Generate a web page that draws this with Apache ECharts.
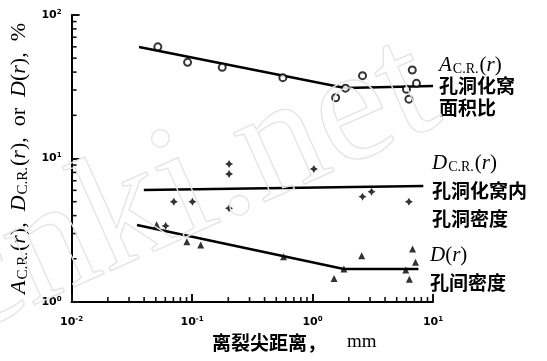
<!DOCTYPE html>
<html>
<head>
<meta charset="utf-8">
<script src="https://cdn.jsdelivr.net/npm/echarts@6/dist/echarts.min.js"></script>
<style>
  html, body { margin: 0; padding: 0; background: #fff; }
  #chart { width: 547px; height: 361px; }
</style>
</head>
<body>
<div id="chart"></div>
<script>
// Crater area ratio A_C.R.(r): measured points and fitted line
const acrR = [0.052, 0.0918, 0.178, 0.567, 1.876, 1.556, 2.60, 6.73, 7.29, 6.02, 6.31];
const acrV = [60, 46.8, 43.2, 36.6, 30.9, 26.5, 37.8, 41.4, 33.4, 30.4, 25.9];
const acrFitR = [0.0363, 1.865, 10];
const acrFitV = [59.8, 31.0, 32.0];

// Void density inside craters D_C.R.(r)
const dcrR = [0.203, 0.203, 0.0706, 0.1007, 0.203, 0.0604, 1.026, 2.60, 3.09, 6.31];
const dcrV = [9.16, 7.80, 5.00, 5.00, 4.50, 3.39, 8.45, 5.42, 5.87, 5.00];
const dcrFitR = [0.0398, 8.31];
const dcrFitV = [6.03, 6.43];

// Inter-void density D(r)
const dR = [0.0508, 0.0906, 0.118, 0.575, 2.56, 1.51, 1.82, 6.77, 7.16, 6.37, 5.94];
const dV = [3.45, 2.63, 2.50, 2.07, 2.10, 1.46, 1.70, 2.34, 1.89, 1.44, 1.67];
const dFitR = [0.0349, 1.82, 7.57];
const dFitV = [3.44, 1.70, 1.70];

// Axis ranges and tick labels
const xMin = 0.01, xMax = 10;
const yMin = 1, yMax = 100;
const xTickLabels = { '0.01': '-2', '0.1': '-1', '1': '0', '10': '1' };
const yTickLabels = { '1': '0', '10': '1', '100': '2' };
const minorMult = [2, 3, 4, 5, 6, 7, 8, 9];
const xDecades = [0.01, 0.1, 1];
const yDecades = [1, 10];

const zip = (a, b) => a.map((v, i) => [v, b[i]]);

const starPath = 'path://M0,-10 L3.6,-3.6 L10,0 L3.6,3.6 L0,10 L-3.6,3.6 L-10,0 L-3.6,-3.6 Z';
const serif = '"Liberation Serif", "DejaVu Serif", serif';
const cjk = '"Noto Sans CJK SC", sans-serif';
const ink = '#111111';

const lineStyle = { color: '#000', width: 2.6 };

function fitSeries(data) {
  return {
    type: 'line', data: data, symbol: 'none', silent: true,
    lineStyle: lineStyle, z: 3, animation: false
  };
}

const tickRich = {
  b: { fontFamily: '"DejaVu Sans", sans-serif', fontSize: 11, fontWeight: 'bold', color: '#000' },
  sup: { fontFamily: '"DejaVu Sans", sans-serif', fontSize: 7, fontWeight: 'bold', color: '#000', verticalAlign: 'top', padding: [0, 0, 6, 0] }
};

const nameRich = {
  i: { fontFamily: serif, fontStyle: 'italic', fontSize: 21, color: '#000' },
  n: { fontFamily: serif, fontSize: 21, color: '#000' },
  s: { fontFamily: serif, fontSize: 14, color: '#000', padding: [8, 1, 0, 1] }
};
const yNameRich = {
  i: { fontFamily: serif, fontStyle: 'italic', fontSize: 22, color: '#000' },
  n: { fontFamily: serif, fontSize: 22, color: '#000' },
  s: { fontFamily: serif, fontSize: 15, color: '#000', padding: [8, 1, 0, 1] }
};

const axisCommon = {
  axisLine: { show: true, lineStyle: { color: '#000', width: 2 } },
  axisTick: { show: true, inside: true, length: 8, lineStyle: { color: ink, width: 2 } },
  splitLine: { show: false },
  minorTick: { show: false }
};

const chart = echarts.init(document.getElementById('chart'));

const cjkText = (left, top, text) => ({
  type: 'text', left: left, top: top,
  style: { text: text, font: 'bold 19px ' + cjk, fill: '#000' }
});

chart.setOption({
  backgroundColor: '#fff',
  animation: false,
  grid: { left: 63, right: 114, top: 15, bottom: 59 },
  xAxis: Object.assign({
    type: 'log', logBase: 10, min: xMin, max: xMax,
    axisLabel: {
      margin: 14,
      formatter: v => '{b|10}{sup|' + xTickLabels[String(v)] + '}',
      rich: tickRich
    }
  }, axisCommon),
  yAxis: Object.assign({
    type: 'log', logBase: 10, min: yMin, max: yMax,
    axisLabel: {
      margin: 10,
      formatter: v => '{b|10}{sup|' + yTickLabels[String(v)] + '}',
      rich: tickRich
    },
    name: '{i|A}{s|C.R.}{n|(}{i|r}{n|),  }{i|D}{s|C.R.}{n|(}{i|r}{n|),  or  }{i|D}{n|(}{i|r}{n|),  %}',
    nameLocation: 'middle',
    nameRotate: 90,
    nameGap: 36,
    nameTextStyle: { rich: yNameRich }
  }, axisCommon),
  series: [
    fitSeries(zip(acrFitR, acrFitV)),
    fitSeries(zip(dcrFitR, dcrFitV)),
    fitSeries(zip(dFitR, dFitV)),
    {
      type: 'scatter', data: zip(acrR, acrV), symbol: 'circle', symbolSize: 7, z: 5,
      itemStyle: { color: '#fff', borderColor: '#000', borderWidth: 2 }
    },
    {
      type: 'scatter', data: zip(dcrR, dcrV), symbol: starPath, symbolSize: 8, z: 5,
      itemStyle: { color: '#000' }
    },
    {
      type: 'scatter', data: zip(dR, dV), symbol: 'triangle', symbolSize: 7, z: 5,
      itemStyle: { color: '#000' }
    }
  ]
});

// Annotations and minor ticks at 2..9 of each decade (through the axis scales)
const graphics = [
  { type: 'text', left: 439, top: 55, style: { text: '{i|A}{s|C.R.}{n|(}{i|r}{n|)}', rich: nameRich } },
  cjkText(439, 76, '孔洞化窝'),
  cjkText(439, 98, '面积比'),
  { type: 'text', left: 432, top: 153, style: { text: '{i|D}{s|C.R.}{n|(}{i|r}{n|)}', rich: nameRich } },
  cjkText(432, 181, '孔洞化窝内'),
  cjkText(432, 209, '孔洞密度'),
  { type: 'text', left: 430, top: 245, style: { text: '{i|D}{n|(}{i|r}{n|)}', rich: nameRich } },
  cjkText(430, 273, '孔间密度'),
  cjkText(212, 333, '离裂尖距离，'),
  { type: 'text', left: 347, top: 333, style: { text: 'mm', font: '19px ' + serif, fill: '#000' } }
];
xDecades.forEach(d => minorMult.forEach(m => {
  const p = chart.convertToPixel({ xAxisIndex: 0, yAxisIndex: 0 }, [m * d, yMin]);
  graphics.push({ type: 'line', silent: true, z: 10,
    shape: { x1: p[0], y1: p[1], x2: p[0], y2: p[1] - 5 },
    style: { stroke: ink, lineWidth: 1.6 } });
}));
yDecades.forEach(d => minorMult.forEach(m => {
  const p = chart.convertToPixel({ xAxisIndex: 0, yAxisIndex: 0 }, [xMin, m * d]);
  graphics.push({ type: 'line', silent: true, z: 10,
    shape: { x1: p[0], y1: p[1], x2: p[0] + 5, y2: p[1] },
    style: { stroke: ink, lineWidth: 1.6 } });
}));
// Faint outlined watermark on its own layer
graphics.push({
  type: 'text', x: -20, y: 372, rotation: 0.42, silent: true, zlevel: 1,
  style: {
    text: 'cnki.net', fontFamily: serif, fontSize: 165, verticalAlign: 'bottom',
    fill: 'rgba(255,255,255,0)', stroke: '#e4e4e4', lineWidth: 1.3
  }
});
chart.setOption({ graphic: graphics });
</script>
</body>
</html>
